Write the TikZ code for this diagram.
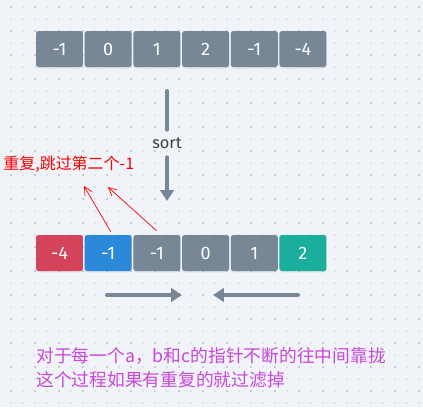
\documentclass[tikz,border=0pt]{standalone}
\usepackage{fontspec}
\setmainfont{Fira Sans}
\newfontfamily\cjk{Noto Sans CJK SC}
\usetikzlibrary{positioning,arrows.meta,shadows}
\definecolor{bgcol}{RGB}{240,243,247}
\definecolor{dotlight}{RGB}{222,227,234}
\definecolor{dotdark}{RGB}{194,203,214}
\definecolor{cellgray}{RGB}{120,135,150}
\definecolor{cellred}{RGB}{211,68,90}
\definecolor{cellblue}{RGB}{43,137,218}
\definecolor{cellteal}{RGB}{26,175,157}
\definecolor{notepurple}{RGB}{200,72,222}

\begin{document}
\begin{tikzpicture}[x=0.02cm, y=-0.02cm, node distance=0.02cm,
  cell/.style={rounded corners=0.05cm, fill=cellgray, text=white, minimum width=0.94cm, minimum height=0.72cm, inner sep=0pt, font=\fontsize{10.3}{10.3}\selectfont, drop shadow={shadow xshift=0pt, shadow yshift=-0.03cm, opacity=0.12}},
  flow/.style={draw=cellgray, line width=0.08cm, line cap=round},
  flowtip/.style={-{Triangle[width=0.27cm, length=0.22cm]}},
  dup/.style={draw=red, line width=0.4pt, -{Straight Barb[length=0.16cm, width=0.16cm]}}]
\fill[bgcol] (0,0) rectangle (423,407);
\foreach \i in {0,...,34}
  \foreach \j in {0,...,33}
    \fill[dotlight] (10+12*\i,6+12*\j) rectangle ++(2,2);
\foreach \i in {0,...,17}
  \foreach \j in {0,...,16}
    \fill[dotdark] (10+24*\i,6+24*\j) rectangle ++(2,2);

\node (a1) [cell] at (59.5,49) {-1};
\node (a2) [cell, right=of a1] {0};
\node (a3) [cell, right=of a2] {1};
\node (a4) [cell, right=of a3] {2};
\node (a5) [cell, right=of a4] {-1};
\node (a6) [cell, right=of a5] {-4};

\coordinate (sortstart) at (167,91);
\node (sort) [inner sep=0pt, minimum height=0.54cm, text=black!75, font=\fontsize{9.3}{9.3}\selectfont] at (167,143.5) {sort};
\coordinate (sortend) at (167,201);
\draw[flow] (sortstart) -- (sort.north);
\draw[flow, flowtip] (sort.south) -- (sortend);

\node (b1) [cell, fill=cellred] at (59.5,253) {-4};
\node (b2) [cell, fill=cellblue, right=of b1] {-1};
\node (b3) [cell, right=of b2] {-1};
\node (b4) [cell, right=of b3] {0};
\node (b5) [cell, right=of b4] {1};
\node (b6) [cell, fill=cellteal, right=of b5] {2};

\node (dupnote) [anchor=west, inner sep=0pt, text=red, font=\cjk\fontsize{9.1}{9.1}\selectfont] at (3,164) {重复,跳过第二个-1};
\coordinate (dupA) at (84,186);
\coordinate (dupB) at (108,187);
\draw[dup] ([xshift=0.05cm, yshift=0.06cm]b2.north) -- (dupA);
\draw[dup] ([xshift=-0.01cm, yshift=0.08cm]b3.north) -- (dupB);

\coordinate (leftstart) at (107,295);
\coordinate (leftend) at (182,295);
\coordinate (rightstart) at (298,295);
\coordinate (rightend) at (213,295);
\draw[flow, flowtip] (leftstart) -- (leftend);
\draw[flow, flowtip] (rightstart) -- (rightend);

\node (summary) [anchor=west, inner sep=0pt, align=left, text=notepurple, font=\cjk\fontsize{10.1}{13.6}\selectfont] at (36,368) {对于每一个a，b和c的指针不断的往中间靠拢\\这个过程如果有重复的就过滤掉};
\end{tikzpicture}
\end{document}
